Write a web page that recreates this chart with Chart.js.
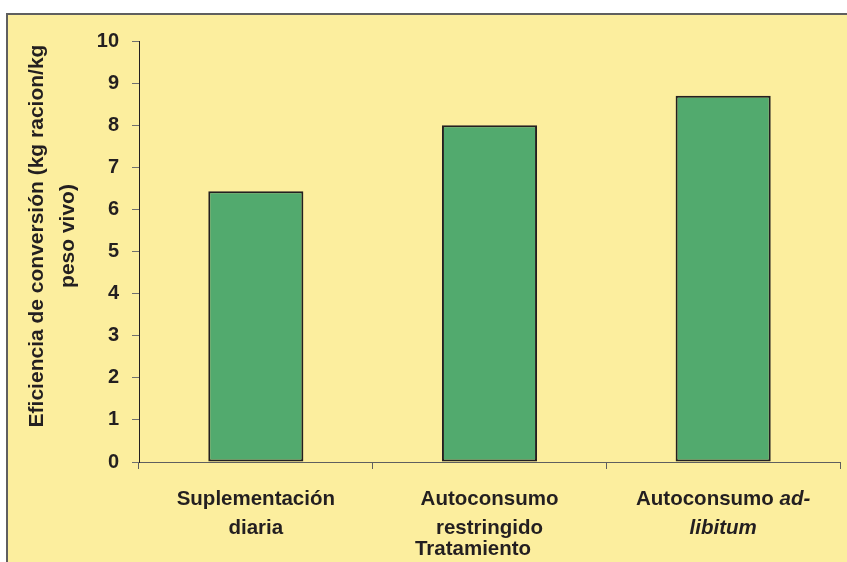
<!DOCTYPE html>
<html>
<head>
<meta charset="utf-8">
<script src="https://cdn.jsdelivr.net/npm/chart.js@4"></script>
<style>
  html, body { margin: 0; padding: 0; background: #ffffff; }
  #wrap { width: 847px; height: 562px; }
</style>
</head>
<body>
<div id="wrap"><canvas id="c" width="847" height="562"></canvas></div>
<script>
// Treatments (each label line; an entry is a list of [text, italic] runs)
const categories = ['Suplementación diaria', 'Autoconsumo restringido', 'Autoconsumo ad-libitum'];
const labelLines = [
  [[['Suplementación', false]], [['diaria', false]]],
  [[['Autoconsumo', false]], [['restringido', false]]],
  [[['Autoconsumo ', false], ['ad-', true]], [['libitum', true]]]
];
// Feed conversion efficiency (kg feed / kg live weight)
const conversion = [6.43, 8.0, 8.7];
const yTicks = [0, 1, 2, 3, 4, 5, 6, 7, 8, 9, 10];
const yTitle = ['Eficiencia de conversión (kg racion/kg', 'peso vivo)'];
const xTitle = 'Tratamiento';

const FONT = '"Liberation Sans", Arial, Helvetica, sans-serif';
const INK = '#231f20';
const PANEL = '#fcee9e';

const panelPlugin = {
  id: 'panel',
  beforeDraw(chart) {
    const ctx = chart.ctx;
    ctx.save();
    ctx.fillStyle = '#ffffff';
    ctx.fillRect(0, 0, chart.width, chart.height);
    ctx.fillStyle = PANEL;
    ctx.fillRect(6, 13, chart.width - 6, chart.height - 13);
    ctx.strokeStyle = '#5f5f5f';
    ctx.lineWidth = 2;
    ctx.beginPath();
    ctx.moveTo(7, chart.height);
    ctx.lineTo(7, 14);
    ctx.lineTo(chart.width, 14);
    ctx.stroke();
    ctx.restore();
  },
  afterDraw(chart) {
    const ctx = chart.ctx;
    const x = chart.scales.x;
    ctx.save();
    ctx.fillStyle = INK;
    ctx.textBaseline = 'alphabetic';
    // category labels, with mixed upright / italic runs
    const baselines = [505, 534];
    labelLines.forEach((lines, i) => {
      const cx = x.getPixelForValue(i);
      lines.forEach((runs, li) => {
        let total = 0;
        const widths = runs.map(([t, it]) => {
          ctx.font = (it ? 'italic ' : '') + 'bold 20.5px ' + FONT;
          const w = ctx.measureText(t).width;
          total += w;
          return w;
        });
        let px = cx - total / 2;
        ctx.textAlign = 'left';
        runs.forEach(([t, it], k) => {
          ctx.font = (it ? 'italic ' : '') + 'bold 20.5px ' + FONT;
          ctx.fillText(t, px, baselines[li]);
          px += widths[k];
        });
      });
    });
    // x axis title
    ctx.font = 'bold 20.5px ' + FONT;
    ctx.textAlign = 'center';
    ctx.fillText(xTitle, 473, 555);
    // y axis title, two rotated lines
    ctx.font = 'bold 21px ' + FONT;
    const yMid = 236;
    [43, 74].forEach((bx, i) => {
      ctx.save();
      ctx.translate(bx, yMid);
      ctx.rotate(-Math.PI / 2);
      ctx.textAlign = 'center';
      ctx.fillText(yTitle[i], 0, 0);
      ctx.restore();
    });
    ctx.restore();
  }
};

new Chart(document.getElementById('c'), {
  type: 'bar',
  data: {
    labels: categories,
    datasets: [{
      data: conversion,
      backgroundColor: '#52aa6e',
      borderColor: INK,
      borderWidth: 2,
      borderSkipped: false,
      categoryPercentage: 1,
      barPercentage: 0.407
    }]
  },
  options: {
    responsive: false,
    animation: false,
    devicePixelRatio: 1,
    layout: { padding: { top: 41, right: 7, left: 0, bottom: 0 } },
    plugins: { legend: { display: false }, tooltip: { enabled: false } },
    scales: {
      x: {
        afterFit(s) { s.height = 100; },
        ticks: { display: false },
        grid: { offset: true, drawOnChartArea: false, drawTicks: true, tickLength: 7, color: '#5f5f5f' },
        border: { display: true, color: '#5f5f5f', width: 1 }
      },
      y: {
        min: 0, max: 10,
        afterFit(s) { s.width = 139; },
        afterBuildTicks(s) { s.ticks = yTicks.map(v => ({ value: v })); },
        ticks: {
          color: INK,
          padding: 13,
          font: { family: FONT, size: 20, weight: 'bold' }
        },
        grid: { drawOnChartArea: false, drawTicks: true, tickLength: 7, color: '#6f6f6f' },
        border: { display: true, color: INK, width: 1 }
      }
    }
  },
  plugins: [panelPlugin]
});
</script>
</body>
</html>
